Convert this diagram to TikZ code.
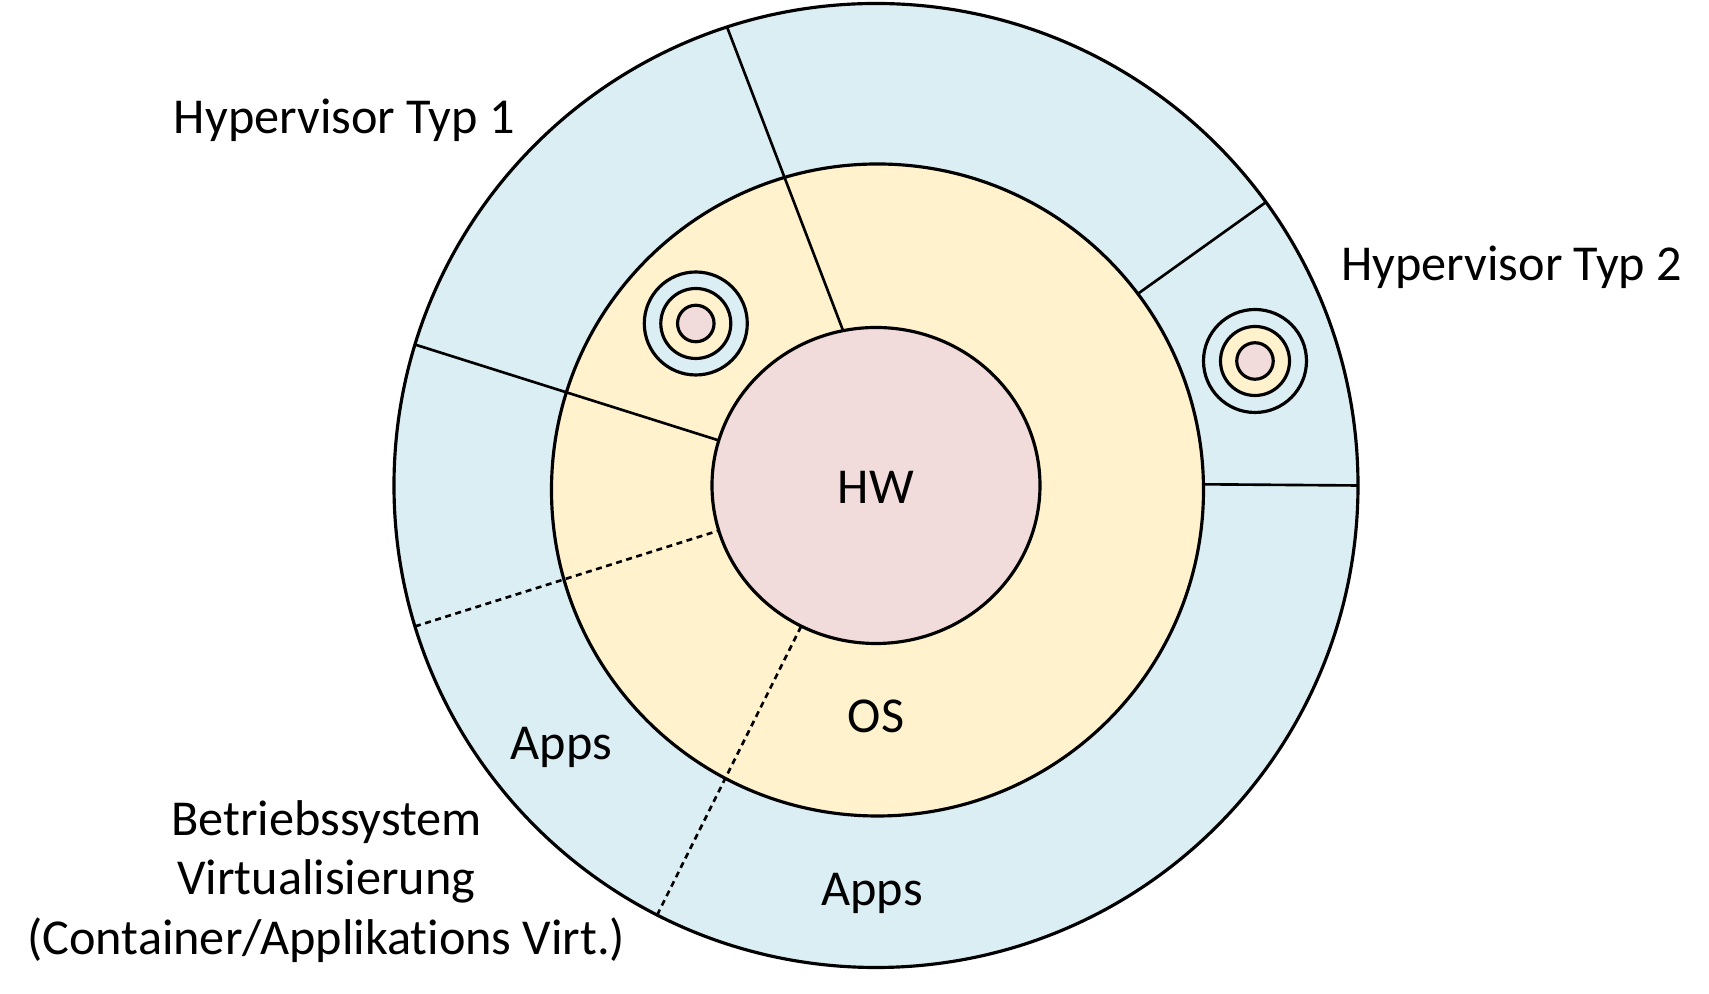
\documentclass[tikz,border=0pt]{standalone}
\usepackage{fontspec}
\setmainfont{Carlito}[Ligatures=NoCommon]
\usetikzlibrary{shapes.geometric}
\definecolor{appsBlue}{HTML}{DAEEF3}
\definecolor{osYellow}{HTML}{FFF2CC}
\definecolor{hwPink}{HTML}{F2DCDB}
\begin{document}
\begin{tikzpicture}[ringStyle/.style={circle, draw, line width=0.9pt, inner sep=0pt, outer sep=0pt},
                    hwStyle/.style={ellipse, draw, line width=0.9pt, fill=hwPink, inner sep=0pt, outer sep=0pt, minimum width=3.28cm, minimum height=3.16cm},
                    cutStyle/.style={line width=0.75pt},
                    vmStyle/.style={line width=0.75pt, dash pattern=on 1.7pt off 1.3pt},
                    labelStyle/.style={font=\fontsize{14.3}{17}\selectfont, align=center}]
                    \useasboundingbox (-8.76,-5.085) rectangle (8.33,4.855);

                    \node[ringStyle, fill=appsBlue, minimum size=9.64cm] (apps) at (0, 0) {};
                    \node[ringStyle, fill=osYellow, minimum size=6.52cm] (os) at (0.015, -0.045) {};
                    \node[hwStyle] (hw) at (0, 0) {};

                    \draw[cutStyle] (apps.108.8) -- (hw.102.4);
                    \draw[cutStyle] (apps.36.2) -- (os.37);
                    \draw[cutStyle] (apps.0.2) -- (os.1);
                    \draw[cutStyle] (apps.163.1) -- (hw.164.7);
                    \draw[vmStyle] (apps.197.4) -- (hw.196);
                    \draw[vmStyle] (apps.243.2) -- (hw.242.4);

                    % kleine Kreise
                    \node[ringStyle, fill=appsBlue, minimum size=1.03cm] (vm1_A) at (-1.802, 1.62) {};
                    \node[ringStyle, fill=osYellow, minimum size=0.70cm] (vm1_O) at (-1.802, 1.62) {};
                    \node[ringStyle, fill=hwPink, minimum size=0.365cm] (vm1_H) at (-1.802, 1.62) {};

                    \node[ringStyle, fill=appsBlue, minimum size=1.03cm] (vm2_A) at (3.79, 1.245) {};
                    \node[ringStyle, fill=osYellow, minimum size=0.69cm] (vm2_O) at (3.79, 1.245) {};
                    \node[ringStyle, fill=hwPink, minimum size=0.365cm] (vm2_H) at (3.79, 1.245) {};

                    \node[labelStyle] (hw_L) at (0, -0.02) {HW};
                    \node[labelStyle] (os_L) at (0, -2.31) {OS};
                    \node[labelStyle] (apps_L1) at (-3.147, -2.615) {Apps};
                    \node[labelStyle] (apps_L2) at (-0.04, -4.075) {Apps};

                    \node[labelStyle] (hyp1) at (-5.316, 3.65) {Hypervisor Typ 1};
                    \node[labelStyle] (hyp2) at (6.357, 2.18) {Hypervisor Typ 2};
                    \node[labelStyle] (osvirt) at (-5.496, -3.96) {Betriebssystem\\Virtualisierung\\(Container/Applikations Virt.)};
                \end{tikzpicture}
\end{document}
